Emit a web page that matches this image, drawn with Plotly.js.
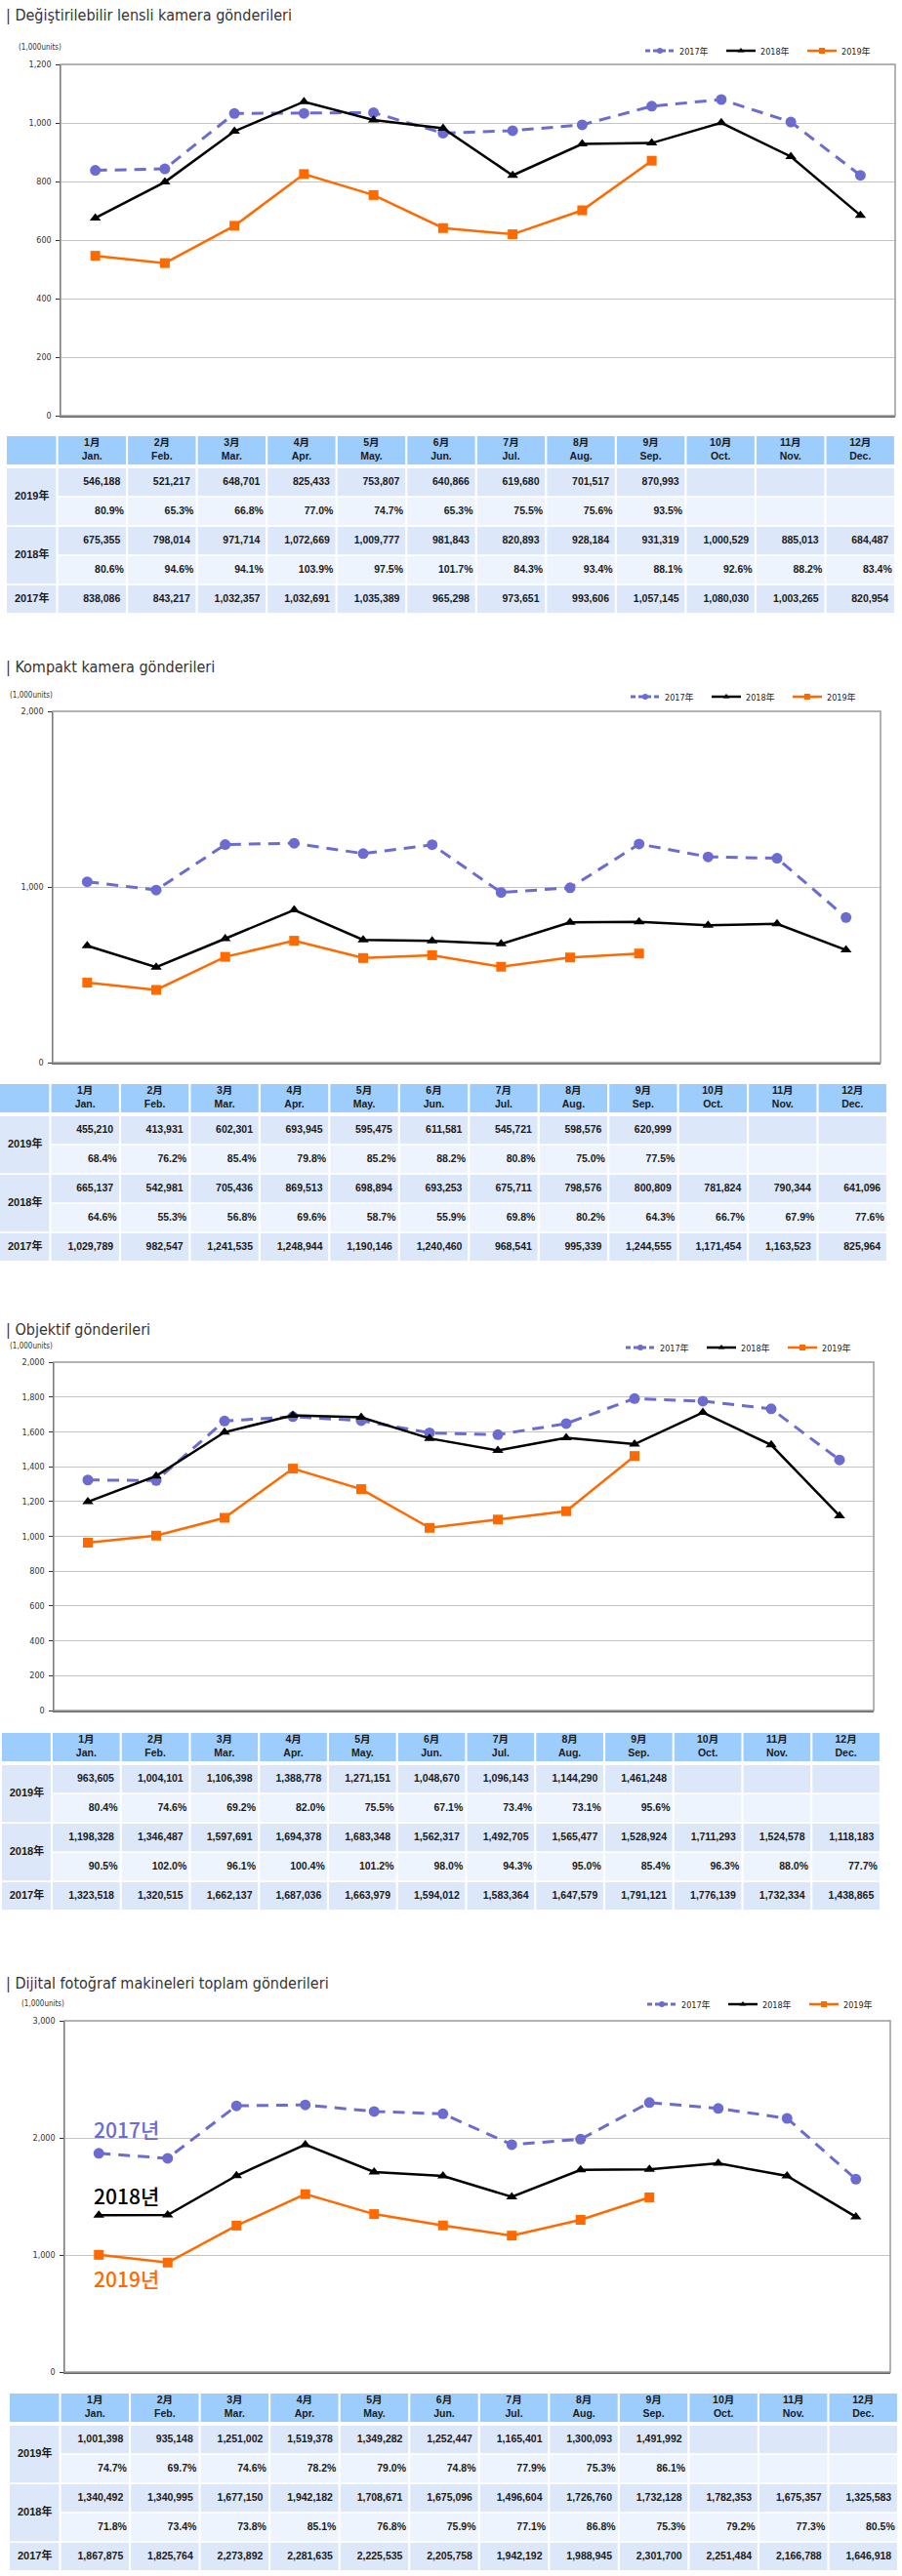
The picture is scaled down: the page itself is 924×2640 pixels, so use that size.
<!DOCTYPE html>
<html>
<head>
<meta charset="utf-8">
<script src="https://cdn.plot.ly/plotly-3.0.1.min.js"></script>
<style>
  html, body { margin: 0; padding: 0; background: #fff; }
  #page { width: 924px; height: 2640px; }
</style>
</head>
<body>
<div id="page"></div>
<script>
// ---- data ----
const monthsJa = ['1月', '2月', '3月', '4月', '5月', '6月', '7月', '8月', '9月', '10月', '11月', '12月'];
const monthsEn = ['Jan.', 'Feb.', 'Mar.', 'Apr.', 'May.', 'Jun.', 'Jul.', 'Aug.', 'Sep.', 'Oct.', 'Nov.', 'Dec.'];
const yearLabels = ['2019年', '2018年', '2017年'];

// Değiştirilebilir lensli kamera (units)
const ilc2019 = [546188, 521217, 648701, 825433, 753807, 640866, 619680, 701517, 870993];
const ilc2019Pct = [80.9, 65.3, 66.8, 77.0, 74.7, 65.3, 75.5, 75.6, 93.5];
const ilc2018 = [675355, 798014, 971714, 1072669, 1009777, 981843, 820893, 928184, 931319, 1000529, 885013, 684487];
const ilc2018Pct = [80.6, 94.6, 94.1, 103.9, 97.5, 101.7, 84.3, 93.4, 88.1, 92.6, 88.2, 83.4];
const ilc2017 = [838086, 843217, 1032357, 1032691, 1035389, 965298, 973651, 993606, 1057145, 1080030, 1003265, 820954];

// Kompakt kamera
const dsc2019 = [455210, 413931, 602301, 693945, 595475, 611581, 545721, 598576, 620999];
const dsc2019Pct = [68.4, 76.2, 85.4, 79.8, 85.2, 88.2, 80.8, 75.0, 77.5];
const dsc2018 = [665137, 542981, 705436, 869513, 698894, 693253, 675711, 798576, 800809, 781824, 790344, 641096];
const dsc2018Pct = [64.6, 55.3, 56.8, 69.6, 58.7, 55.9, 69.8, 80.2, 64.3, 66.7, 67.9, 77.6];
const dsc2017 = [1029789, 982547, 1241535, 1248944, 1190146, 1240460, 968541, 995339, 1244555, 1171454, 1163523, 825964];

// Objektif
const lens2019 = [963605, 1004101, 1106398, 1388778, 1271151, 1048670, 1096143, 1144290, 1461248];
const lens2019Pct = [80.4, 74.6, 69.2, 82.0, 75.5, 67.1, 73.4, 73.1, 95.6];
const lens2018 = [1198328, 1346487, 1597691, 1694378, 1683348, 1562317, 1492705, 1565477, 1528924, 1711293, 1524578, 1118183];
const lens2018Pct = [90.5, 102.0, 96.1, 100.4, 101.2, 98.0, 94.3, 95.0, 85.4, 96.3, 88.0, 77.7];
const lens2017 = [1323518, 1320515, 1662137, 1687036, 1663979, 1594012, 1583364, 1647579, 1791121, 1776139, 1732334, 1438865];

// Dijital fotoğraf makineleri toplam
const total2019 = [1001398, 935148, 1251002, 1519378, 1349282, 1252447, 1165401, 1300093, 1491992];
const total2019Pct = [74.7, 69.7, 74.6, 78.2, 79.0, 74.8, 77.9, 75.3, 86.1];
const total2018 = [1340492, 1340995, 1677150, 1942182, 1708671, 1675096, 1496604, 1726760, 1732128, 1782353, 1675357, 1325583];
const total2018Pct = [71.8, 73.4, 73.8, 85.1, 76.8, 75.9, 77.1, 86.8, 75.3, 79.2, 77.3, 80.5];
const total2017 = [1867875, 1825764, 2273892, 2281635, 2225535, 2205758, 1942192, 1988945, 2301700, 2251484, 2166788, 1646918];

// ---- page layout ----
const W = 924, H = 2640;
const px2x = p => p / W;
const px2y = p => 1 - p / H;

const NARROW = 'Liberation Sans Narrow, DejaVu Sans Condensed, Noto Sans CJK JP, sans-serif';
const TFONT = 'Liberation Sans, Arial, Noto Sans CJK JP, sans-serif';
const C17 = '#6b6bd0', C18 = '#000000', C19 = '#ff6a00';

const sections = [
  { title: 'Değiştirilebilir lensli kamera gönderileri', titleY: 15,
    v19: ilc2019, p19: ilc2019Pct, v18: ilc2018, p18: ilc2018Pct, v17: ilc2017,
    plot: { l: 62, r: 917, t: 66, b: 426 }, ymax: 1200, dtick: 200,
    unitsX: 17, unitsY: 49, legendX: 656, legendY: 52, table: { l: 7, r: 917, t: 447 } },
  { title: 'Kompakt kamera gönderileri', titleY: 684,
    v19: dsc2019, p19: dsc2019Pct, v18: dsc2018, p18: dsc2018Pct, v17: dsc2017,
    plot: { l: 54, r: 902, t: 729, b: 1089 }, ymax: 2000, dtick: 1000,
    unitsX: 8, unitsY: 712, legendX: 641, legendY: 714, table: { l: 0, r: 909, t: 1111 } },
  { title: 'Objektif gönderileri', titleY: 1362,
    v19: lens2019, p19: lens2019Pct, v18: lens2018, p18: lens2018Pct, v17: lens2017,
    plot: { l: 55, r: 895, t: 1396, b: 1753 }, ymax: 2000, dtick: 200,
    unitsX: 8, unitsY: 1379, legendX: 636, legendY: 1381, table: { l: 2, r: 902, t: 1776 } },
  { title: 'Dijital fotoğraf makineleri toplam gönderileri', titleY: 2033,
    v19: total2019, p19: total2019Pct, v18: total2018, p18: total2018Pct, v17: total2017,
    plot: { l: 66, r: 912, t: 2071, b: 2431 }, ymax: 3000, dtick: 1000,
    unitsX: 20, unitsY: 2053, legendX: 658, legendY: 2054, table: { l: 10, r: 920, t: 2453 } }
];

// table geometry in row / column units
const ROW_PX = 30;
const HEAD = [0, 0.97];
const BODY0 = 1.1, BODY_H = 0.94;
const TABLE_ROWS = 6.04;
const LABEL_W = 0.72, CGAP = 0.015;
const HEAD_FILL = '#9dcdfd', VAL_FILL = '#dce8fa', PCT_FILL = '#edf4fe';

const fmtNum = v => v.toLocaleString('en-US');
const fmtPct = v => v.toFixed(1) + '%';
const toK = arr => arr.map(v => v / 1000);

const traces = [];
const shapes = [];
const annotations = [];
const layout = {
  width: W, height: H,
  margin: { l: 0, r: 0, t: 0, b: 0, autoexpand: false },
  paper_bgcolor: '#ffffff', plot_bgcolor: '#ffffff',
  showlegend: true,
  shapes: shapes, annotations: annotations
};

sections.forEach((s, i) => {
  const n = i + 1, tn = i + 5;
  const xa = 'x' + n, ya = 'y' + n, txa = 'x' + tn, tya = 'y' + tn;
  const legKey = n === 1 ? 'legend' : 'legend' + n;

  // section title
  annotations.push({
    xref: 'paper', yref: 'paper', x: px2x(4), y: px2y(s.titleY),
    xanchor: 'left', yanchor: 'middle', showarrow: false,
    text: '| ' + s.title, font: { family: NARROW, size: 16, color: '#333' }
  });
  // unit label
  annotations.push({
    xref: 'paper', yref: 'paper', x: px2x(s.unitsX), y: px2y(s.unitsY),
    xanchor: 'left', yanchor: 'middle', showarrow: false,
    text: '(1,000units)', font: { family: NARROW, size: 8, color: '#333' }
  });

  // line series
  const series = [
    { name: '2017年', v: s.v17, color: C17, dash: '12px,8px', symbol: 'circle', size: 11, width: 3 },
    { name: '2018年', v: s.v18, color: C18, dash: 'solid', symbol: 'triangle-up', size: 10, width: 2.5 },
    { name: '2019年', v: s.v19, color: C19, dash: 'solid', symbol: 'square', size: 10, width: 2.5 }
  ];
  series.forEach(sr => {
    traces.push({
      type: 'scatter', mode: 'lines+markers', xaxis: xa, yaxis: ya,
      x: monthsEn.slice(0, sr.v.length), y: toK(sr.v), name: sr.name,
      line: { color: sr.color, width: sr.width, dash: sr.dash },
      marker: { color: sr.color, symbol: sr.symbol, size: sr.size },
      showlegend: false, hoverinfo: 'skip', cliponaxis: false
    });
  });
  // legend entries with small markers
  series.forEach(sr => {
    traces.push({
      type: 'scatter', mode: 'lines+markers', xaxis: xa, yaxis: ya,
      x: [null], y: [null], name: sr.name, legend: legKey,
      line: { color: sr.color, width: sr.width, dash: sr.dash === 'solid' ? 'solid' : '5px,3px' },
      marker: { color: sr.color, symbol: sr.symbol, size: 6 },
      showlegend: true, hoverinfo: 'skip'
    });
  });

  layout[legKey] = {
    orientation: 'h', x: px2x(s.legendX), y: px2y(s.legendY), xanchor: 'left', yanchor: 'middle',
    itemwidth: 30, entrywidth: 38, entrywidthmode: 'pixels', bgcolor: 'rgba(0,0,0,0)',
    font: { family: NARROW, size: 9, color: '#222' }, itemclick: false, itemdoubleclick: false
  };

  layout['xaxis' + (n === 1 ? '' : n)] = {
    domain: [px2x(s.plot.l), px2x(s.plot.r)], anchor: ya,
    type: 'category', categoryarray: monthsEn, categoryorder: 'array', range: [-0.5, 11.5],
    showticklabels: false, ticks: '', showgrid: false, zeroline: false,
    showline: true, linecolor: '#666', linewidth: 1.5, fixedrange: true
  };
  layout['yaxis' + n] = {
    domain: [px2y(s.plot.b), px2y(s.plot.t)], anchor: xa,
    range: [0, s.ymax], dtick: s.dtick, tickformat: ',d',
    ticks: 'outside', ticklen: 4, tickcolor: '#333', ticklabelstandoff: 2,
    showline: true, linecolor: '#222', linewidth: 1.5,
    showgrid: true, gridcolor: '#c4c4c4', gridwidth: 1, zeroline: false,
    tickfont: { family: NARROW, size: 9, color: '#333' }, fixedrange: true
  };
  // plot frame
  shapes.push({
    type: 'rect', xref: xa + ' domain', yref: ya + ' domain', x0: 0, x1: 1, y0: 0, y1: 1,
    line: { color: '#999', width: 1.5 }, fillcolor: 'rgba(0,0,0,0)', layer: 'above'
  });

  // ---- table ----
  const tTop = s.table.t, tBot = s.table.t + TABLE_ROWS * ROW_PX;
  layout['xaxis' + tn] = {
    domain: [px2x(s.table.l), px2x(s.table.r)], anchor: tya, range: [-LABEL_W, 12],
    visible: false, fixedrange: true
  };
  layout['yaxis' + tn] = {
    domain: [px2y(tBot), px2y(tTop)], anchor: txa, range: [TABLE_ROWS, 0],
    visible: false, fixedrange: true
  };
  const cell = (x0, x1, y0, y1, fill) => shapes.push({
    type: 'rect', xref: txa, yref: tya, x0: x0, x1: x1, y0: y0, y1: y1,
    line: { width: 0 }, fillcolor: fill, layer: 'below'
  });

  // header
  cell(-LABEL_W, -CGAP, HEAD[0], HEAD[1], HEAD_FILL);
  monthsJa.forEach((m, j) => cell(j + CGAP, j + 1 - CGAP, HEAD[0], HEAD[1], HEAD_FILL));

  const rows = [
    { vals: s.v19, fmt: fmtNum, fill: VAL_FILL, pad: 0.08 },
    { vals: s.p19, fmt: fmtPct, fill: PCT_FILL, pad: 0.03 },
    { vals: s.v18, fmt: fmtNum, fill: VAL_FILL, pad: 0.08 },
    { vals: s.p18, fmt: fmtPct, fill: PCT_FILL, pad: 0.03 },
    { vals: s.v17, fmt: fmtNum, fill: VAL_FILL, pad: 0.08 }
  ];
  const numX = [], numY = [], numT = [];
  rows.forEach((r, ri) => {
    const y0 = BODY0 + ri, y1 = y0 + BODY_H;
    monthsJa.forEach((m, j) => {
      cell(j + CGAP, j + 1 - CGAP, y0, y1, r.fill);
      if (j < r.vals.length) {
        numX.push(j + 1 - CGAP - r.pad);
        numY.push((y0 + y1) / 2);
        numT.push(r.fmt(r.vals[j]));
      }
    });
  });
  // year label cells spanning rows
  const spans = [[0, 1], [2, 3], [4, 4]];
  const labX = [], labY = [];
  spans.forEach(sp => {
    const y0 = BODY0 + sp[0], y1 = BODY0 + sp[1] + BODY_H;
    cell(-LABEL_W, -CGAP, y0, y1, VAL_FILL);
    labX.push(-LABEL_W / 2);
    labY.push((y0 + y1) / 2);
  });

  const tfont = { family: TFONT, size: 10.5, color: '#1a1a1a', weight: 'bold' };
  traces.push({
    type: 'scatter', mode: 'text', xaxis: txa, yaxis: tya,
    x: monthsJa.map((m, j) => j + 0.5), y: monthsJa.map(() => (HEAD[0] + HEAD[1]) / 2),
    text: monthsJa.map((m, j) => m + '<br>' + monthsEn[j]),
    textposition: 'middle center', textfont: { family: TFONT, size: 10.5, color: '#1a1a1a', weight: 'bold' },
    showlegend: false, hoverinfo: 'skip', cliponaxis: false
  });
  traces.push({
    type: 'scatter', mode: 'text', xaxis: txa, yaxis: tya,
    x: numX, y: numY, text: numT, textposition: 'middle left', textfont: tfont,
    showlegend: false, hoverinfo: 'skip', cliponaxis: false
  });
  traces.push({
    type: 'scatter', mode: 'text', xaxis: txa, yaxis: tya,
    x: labX, y: labY, text: yearLabels, textposition: 'middle center',
    textfont: { family: TFONT, size: 11, color: '#1a1a1a', weight: 'bold' },
    showlegend: false, hoverinfo: 'skip', cliponaxis: false
  });
});

// year callouts on the total chart
const callouts = [
  { text: '2017년', y: 2075, color: C17 },
  { text: '2018년', y: 1508, color: C18 },
  { text: '2019년', y: 800, color: C19 }
];
callouts.forEach(c => annotations.push({
  xref: 'paper', yref: 'y4', x: px2x(129), y: c.y, xanchor: 'center', yanchor: 'middle', showarrow: false,
  text: c.text, font: { family: 'Noto Sans CJK KR, sans-serif', size: 21, color: c.color, weight: 500 }
}));

Plotly.newPlot('page', traces, layout, { staticPlot: true, displayModeBar: false });
</script>
</body>
</html>
